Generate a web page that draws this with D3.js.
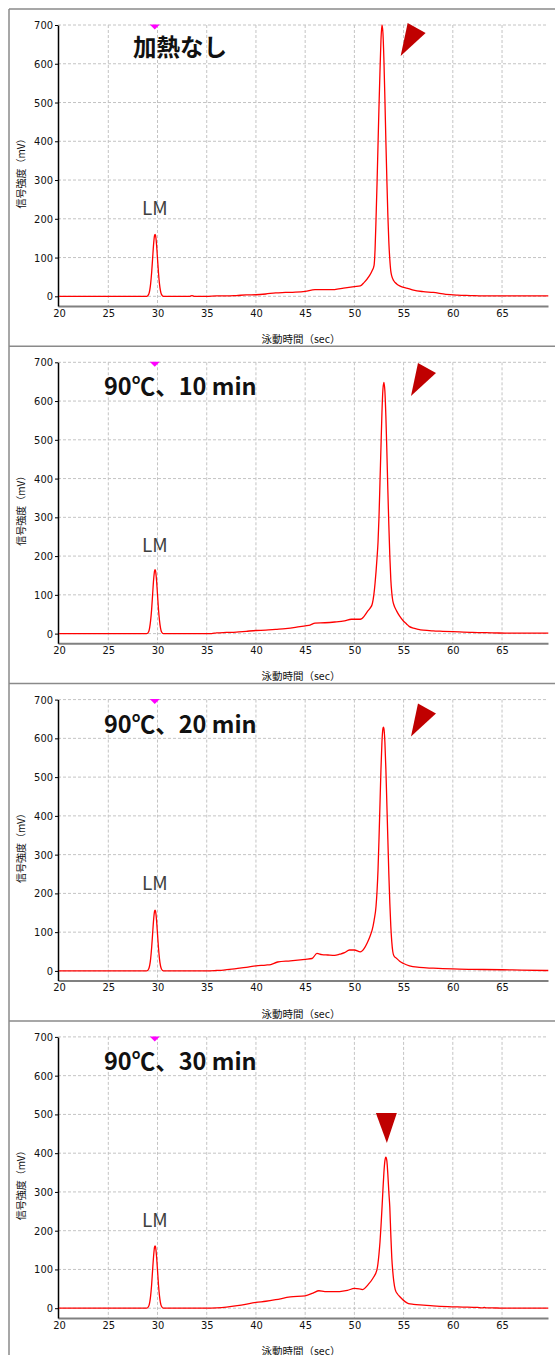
<!DOCTYPE html>
<html>
<head>
<meta charset="utf-8">
<title>泳動パターン</title>
<script src="https://d3js.org/d3.v7.min.js"></script>
<style>
  body { margin: 0; background: #fff; }
  .axis text {
    font-family: "Liberation Sans Narrow", "DejaVu Sans Condensed", "Liberation Sans", sans-serif;
    font-size: 11px;
    fill: #111;
  }
  .ja { font-family: "Noto Sans CJK JP", sans-serif; }
  .grid line { stroke: #c4c4c4; stroke-dasharray: 3,2; stroke-width: 1; }
</style>
</head>
<body>
<script>
// ---- data ----
var panelTitles = ["加熱なし", "90℃、10 min", "90℃、20 min", "90℃、30 min"];
var xTicks = [20, 25, 30, 35, 40, 45, 50, 55, 60, 65];
var yTicks = [0, 100, 200, 300, 400, 500, 600, 700];
var xTitle = "泳動時間（sec）";
var yTitle = "信号強度（mV）";

var timeNoHeat = [20, 28.9, 29.1, 29.3, 29.4, 29.5, 29.6, 29.7, 29.75, 29.8, 29.9, 30.0, 30.1, 30.2, 30.4, 30.6,
  33.3, 33.5, 33.7, 35, 36, 37, 38, 39, 40, 41, 42, 43, 44, 45, 46, 47, 48, 48.9, 50, 50.6, 51, 51.5, 51.8,
  52.0, 52.1, 52.2, 52.3, 52.4, 52.5, 52.6, 52.7, 52.8, 52.9, 53.0, 53.1, 53.2, 53.3, 53.4, 53.5, 53.6, 53.7, 53.8,
  54.0, 54.3, 54.6, 55.0, 55.5, 56, 57, 58, 59.3, 60.5, 61.8, 63, 65, 67, 69.7];
var signalNoHeat = [0, 0, 5, 32, 60, 97, 134, 157, 160, 157, 134, 97, 60, 32, 5, 0,
  0, 2, 0, 0, 1, 1, 2, 3.5, 4, 6, 9, 10, 11, 13, 17, 17, 17.5, 21, 25, 27, 36, 52, 66,
  80, 120, 200, 290, 390, 490, 580, 660, 700, 680, 610, 510, 400, 300, 210, 140, 95, 65, 52,
  40, 32, 27, 23, 20, 16, 12, 10, 5, 3, 2, 1, 1, 1, 1];

var time10min = [20, 28.9, 29.1, 29.3, 29.4, 29.5, 29.6, 29.7, 29.75, 29.8, 29.9, 30.0, 30.1, 30.2, 30.4, 30.6,
  35, 35.5, 36, 37, 38, 39, 40, 41, 42, 43, 44, 45, 45.5, 46, 47, 48, 49, 49.7, 50.6, 51.0, 51.3, 51.6, 51.8,
  52.0, 52.1, 52.2, 52.3, 52.4, 52.5, 52.6, 52.7, 52.8, 52.9, 53.0, 53.1, 53.2, 53.3, 53.4, 53.5, 53.6, 53.7, 53.8, 53.9,
  54.0, 54.3, 54.6, 55.0, 55.3, 55.6, 56.0, 56.5, 57, 58, 59, 60, 62, 64, 66, 69.7];
var signal10min = [0, 0, 5, 34, 62, 100, 138, 162, 165, 162, 138, 100, 62, 34, 5, 0,
  0, 0, 2, 3, 4, 6, 8, 9, 11, 13, 16, 20, 22, 27, 28, 30, 33, 37, 37, 45, 56, 66, 75,
  105, 130, 160, 195, 235, 300, 390, 480, 570, 630, 648, 625, 560, 470, 370, 280, 200, 140, 105, 85,
  75, 58, 45, 32, 25, 18, 14, 11, 9, 7, 6, 5, 3, 2, 1, 1];

var time20min = [20, 28.9, 29.1, 29.3, 29.4, 29.5, 29.6, 29.7, 29.75, 29.8, 29.9, 30.0, 30.1, 30.2, 30.4, 30.6,
  35, 36, 36.7, 38, 39, 40, 41, 41.5, 42.2, 43.5, 45, 45.7, 46.2, 46.7, 47.3, 48, 48.5, 49, 49.5, 50, 50.6, 51,
  51.3, 51.6, 51.8, 52.0, 52.2, 52.3, 52.4, 52.5, 52.6, 52.7, 52.8, 52.9, 52.95, 53.0, 53.1, 53.2, 53.3, 53.4, 53.5,
  53.6, 53.7, 53.8, 53.9, 54.0, 54.3, 54.6, 55.0, 55.6, 56.6, 58, 60, 62, 65, 67, 69.7];
var signal20min = [0, 0, 5, 31, 59, 95, 131, 154, 157, 154, 131, 95, 59, 31, 5, 0,
  0, 1, 2, 6, 9, 13, 15, 16.5, 23, 26, 30, 32, 45, 42, 41, 40, 43, 47, 54, 54, 49, 58,
  72, 90, 105, 130, 167, 205, 260, 340, 430, 520, 590, 625, 629, 625, 590, 520, 430, 340, 250,
  175, 115, 75, 50, 40, 32, 25, 19, 13, 9, 7, 5, 4, 3, 2, 1];

var time30min = [20, 28.9, 29.1, 29.3, 29.4, 29.5, 29.6, 29.7, 29.75, 29.8, 29.9, 30.0, 30.1, 30.2, 30.4, 30.6,
  35, 36, 37, 38.5, 40, 41, 42, 43.5, 45, 45.8, 46.4, 47, 48.5, 49.3, 50, 50.5, 50.8, 51.4, 51.9,
  52.3, 52.5, 52.6, 52.7, 52.8, 52.9, 53.0, 53.1, 53.2, 53.3, 53.4, 53.5, 53.6, 53.7, 53.8, 53.9, 54.0,
  54.15, 54.4, 54.65, 55.15, 55.5, 56, 57, 58, 59.5, 61, 62.5, 63, 63.2, 63.4, 64, 65, 69.7];
var signal30min = [0, 0, 5, 32, 60, 98, 134, 158, 161, 158, 134, 98, 60, 32, 5, 0,
  0, 1, 3, 8, 15, 18, 22, 29, 32, 39, 45, 43, 43, 46, 51, 50, 48, 61, 78,
  100, 140, 170, 210, 256, 305, 350, 380, 390, 380, 345, 300, 260, 190, 130, 95, 70,
  48, 36, 29, 17, 12, 10, 8, 6, 4, 3, 2, 1, 2, 1, 1, 0, 0];

var traces = [
  { time: timeNoHeat, signal: signalNoHeat },
  { time: time10min, signal: signal10min },
  { time: time20min, signal: signal20min },
  { time: time30min, signal: signal30min }
];

// arrow tips (time, signal) and LM peak position
var arrowTime = [54.7, 55.75, 55.75, 53.3];
var arrowSignal = [620, 613, 605, 426];
var arrowDown = [false, false, false, true];
var lmTime = 29.72;

// ---- layout ----
var width = 555, height = 1355;
var frameTop = 9, frameLeft = 9, panelStep = 337.3;
var plotLeft = 58, plotRight = 548;

var svg = d3.select("body").append("svg")
  .attr("width", width)
  .attr("height", height);

var x = d3.scaleLinear().domain([19.89, 69.67]).range([plotLeft, plotRight]);
var y = d3.scaleLinear().domain([-25, 700]).range([297, 16]);

var line = d3.line()
  .x(function(d) { return x(d[0]); })
  .y(function(d) { return y(d[1]); })
  .curve(d3.curveMonotoneX);

// frame
svg.append("line")
  .attr("x1", frameLeft).attr("x2", frameLeft)
  .attr("y1", frameTop).attr("y2", height)
  .attr("stroke", "#8a8a8a").attr("stroke-width", 1.5);

traces.forEach(function(tr, i) {
  var g = svg.append("g")
    .attr("transform", "translate(0," + (frameTop + i * panelStep) + ")");

  g.append("line")
    .attr("x1", frameLeft).attr("x2", width)
    .attr("y1", 0).attr("y2", 0)
    .attr("stroke", "#8a8a8a").attr("stroke-width", 1.5);

  // grid
  var grid = g.append("g").attr("class", "grid");
  grid.selectAll(".h").data(yTicks).enter().append("line")
    .attr("x1", plotLeft).attr("x2", plotRight)
    .attr("y1", function(d) { return y(d); })
    .attr("y2", function(d) { return y(d); });
  grid.selectAll(".v").data(xTicks.filter(function(d) { return d > 20; })).enter().append("line")
    .attr("x1", function(d) { return x(d); })
    .attr("x2", function(d) { return x(d); })
    .attr("y1", y(700)).attr("y2", y(-25));

  // x axis
  var xAxis = g.append("g")
    .attr("class", "axis")
    .attr("transform", "translate(0," + y(-25) + ")")
    .call(d3.axisBottom(x).tickValues(xTicks).tickSize(0).tickPadding(3));
  xAxis.select(".domain").attr("stroke", "#808080").attr("stroke-width", 2);

  // y axis
  var yAxis = g.append("g")
    .attr("class", "axis")
    .attr("transform", "translate(" + plotLeft + ",0)")
    .call(d3.axisLeft(y).tickValues(yTicks).tickSize(3).tickSizeOuter(0).tickPadding(2));
  yAxis.select(".domain").attr("stroke", "#000").attr("stroke-width", 1.5);
  yAxis.selectAll(".tick line").attr("stroke", "#000");

  // axis titles
  g.append("text")
    .attr("class", "ja")
    .attr("x", 301).attr("y", 334)
    .attr("text-anchor", "middle")
    .style("font-size", "10.5px")
    .attr("fill", "#111")
    .text(xTitle);

  g.append("text")
    .attr("class", "ja")
    .attr("transform", "translate(20,162) rotate(-90)")
    .attr("text-anchor", "middle")
    .attr("dominant-baseline", "central")
    .style("font-size", "10px")
    .attr("fill", "#111")
    .text(yTitle);

  // trace
  var pts = tr.time.map(function(t, k) { return [t, tr.signal[k]]; });
  g.append("path")
    .datum(pts)
    .attr("d", line)
    .attr("fill", "none")
    .attr("stroke", "#ff0000")
    .attr("stroke-width", 1.3);

  // LM marker + label
  var lx = x(lmTime);
  g.append("path")
    .attr("d", "M" + (lx - 5) + "," + (y(700) - 0.5) + "L" + (lx + 5) + "," + (y(700) - 0.5) + "L" + lx + "," + (y(700) + 4.5) + "Z")
    .attr("fill", "#ff00ff");
  g.append("text")
    .attr("class", "ja")
    .attr("x", lx).attr("y", 206)
    .attr("text-anchor", "middle")
    .style("font-size", "19px")
    .attr("fill", "#404040")
    .text("LM");

  // title
  g.append("text")
    .attr("class", "ja")
    .attr("x", i === 0 ? 133 : 104)
    .attr("y", i === 0 ? 47 : 49)
    .style("font-size", "23.5px")
    .style("font-weight", "bold")
    .attr("fill", "#111")
    .text(panelTitles[i]);

  // arrowhead
  var ax = x(arrowTime[i]), ay = y(arrowSignal[i]);
  var tri = arrowDown[i]
    ? [[ax, ay], [ax - 11, ay - 30], [ax + 10, ay - 30]]
    : [[ax, ay], [ax + 7, ay - 33], [ax + 25, ay - 23]];
  g.append("path")
    .attr("d", "M" + tri.map(function(p) { return p.join(","); }).join("L") + "Z")
    .attr("fill", "#c00000");
});
</script>
</body>
</html>
